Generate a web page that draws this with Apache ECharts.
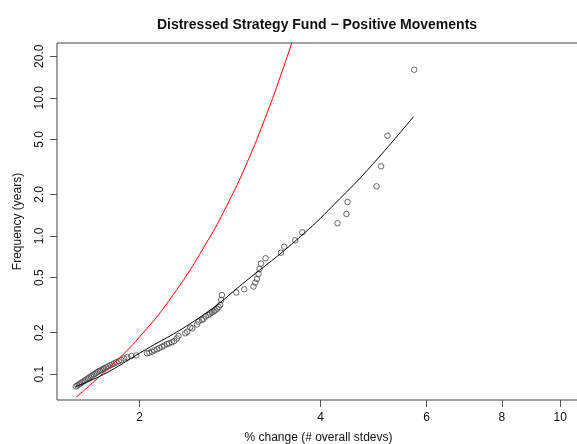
<!DOCTYPE html>
<html>
<head>
<meta charset="utf-8">
<script src="https://cdn.jsdelivr.net/npm/echarts@6/dist/echarts.min.js"></script>
<style>
  html, body { margin: 0; padding: 0; background: #fff; }
  #chart { width: 577px; height: 444px; }
</style>
</head>
<body>
<div id="chart"></div>
<script>
// observed moves (x = # overall stdevs, y = frequency in years)
var pointX = [1.567, 1.576, 1.585, 1.594, 1.603, 1.613, 1.622, 1.632, 1.641, 1.650, 1.660, 1.669, 1.679, 1.689, 1.698, 1.708,
  1.718, 1.728, 1.738, 1.748, 1.761, 1.775, 1.788, 1.802, 1.816, 1.830, 1.847, 1.865, 1.886, 1.908, 1.938, 1.975,
  2.057, 2.076, 2.097, 2.116, 2.138, 2.157, 2.179, 2.198, 2.221, 2.240, 2.264, 2.284, 2.307, 2.322, 2.382, 2.400,
  2.428, 2.447, 2.491, 2.506, 2.539, 2.555, 2.576, 2.604, 2.621, 2.638, 2.656, 2.672, 2.692, 2.706, 2.723, 2.734,
  2.741, 2.895, 2.985, 3.093, 3.114, 3.134, 3.153, 3.165, 3.182, 3.239, 3.435, 3.479, 3.628, 3.727, 4.266, 4.415,
  4.432, 4.953, 5.041, 5.164, 5.721];
var pointY = [0.0815, 0.0828, 0.0842, 0.0856, 0.0871, 0.0885, 0.0900, 0.0916, 0.0931, 0.0947, 0.0962, 0.0979, 0.0995, 0.1012, 0.1029, 0.1046,
  0.1058, 0.1073, 0.1091, 0.1103, 0.1122, 0.1141, 0.1160, 0.1179, 0.1199, 0.1219, 0.1242, 0.1267, 0.1299, 0.1325, 0.1354, 0.1366,
  0.1417, 0.1430, 0.1455, 0.1489, 0.1514, 0.1547, 0.1581, 0.1613, 0.1654, 0.1673, 0.1702, 0.1739, 0.1813, 0.1890, 0.1977, 0.2030,
  0.2177, 0.2148, 0.2289, 0.2398, 0.2467, 0.2516, 0.2615, 0.2681, 0.2749, 0.2795, 0.2842, 0.2900, 0.2978, 0.3064, 0.3168, 0.3444,
  0.3742, 0.3901, 0.4115, 0.4311, 0.4593, 0.4885, 0.5310, 0.5770, 0.6324, 0.6898, 0.7571, 0.8369, 0.9309, 1.0636, 1.2356, 1.4427,
  1.7622, 2.2885, 3.1940, 5.3183, 15.97];

// fitted curve (black)
var fitX = [1.564, 1.743, 2.005, 2.523, 3.016, 3.699, 4.311, 4.896, 5.704];
var fitY = [0.0812, 0.0998, 0.1429, 0.2594, 0.4788, 0.9884, 1.874, 3.357, 7.298];

// normal reference curve (red)
var normX = [1.568, 1.788, 2.005, 2.278, 2.588, 2.794, 3.016, 3.256, 3.426, 3.583, 3.70];
var normY = [0.0681, 0.1135, 0.1884, 0.3793, 0.9036, 1.667, 3.373, 7.709, 14.19, 25.12, 38.5];

var xTicks = [2, 4, 6, 8, 10];
var yTicks = [0.1, 0.2, 0.5, 1.0, 2.0, 5.0, 10.0, 20.0];

var lg = Math.log10;
function pairs(xs, ys) {
  return xs.map(function (x, i) { return [lg(x), lg(ys[i])]; });
}

var font = 'Liberation Sans, Arial, Helvetica, sans-serif';
var chart = echarts.init(document.getElementById('chart'));

chart.setOption({
  animation: false,
  backgroundColor: '#fff',
  title: {
    text: 'Distressed Strategy Fund \u2212 Positive Movements',
    left: 312,
    top: 13,
    textAlign: 'center',
    textStyle: { fontFamily: font, fontSize: 14, fontWeight: 'bold', color: '#111' }
  },
  grid: {
    left: 57, right: -3, top: 43, bottom: 44,
    containLabel: false,
    outerBoundsMode: 'none',
    show: true, borderColor: '#444', borderWidth: 1, backgroundColor: 'transparent'
  },
  xAxis: {
    type: 'value',
    min: 0.1638, max: 1.033,
    name: '% change (# overall stdevs)',
    nameLocation: 'middle', nameGap: 32,
    nameTextStyle: { fontFamily: font, fontSize: 12, color: '#111' },
    splitLine: { show: false },
    axisLine: { show: false, onZero: false },
    axisTick: { show: true, length: 7, lineStyle: { color: '#555' }, customValues: xTicks.map(lg) },
    axisLabel: {
      fontFamily: font, fontSize: 12, color: '#111', margin: 12,
      customValues: xTicks.map(lg),
      formatter: function (v) { return String(Math.round(Math.pow(10, v))); }
    }
  },
  yAxis: {
    type: 'value',
    min: -1.1867, max: 1.3966,
    name: 'Frequency (years)',
    nameLocation: 'middle', nameGap: 33, nameRotate: 90,
    nameTextStyle: { fontFamily: font, fontSize: 12, color: '#111' },
    splitLine: { show: false },
    axisLine: { show: false, onZero: false },
    axisTick: { show: true, length: 7, lineStyle: { color: '#555' }, customValues: yTicks.map(lg) },
    axisLabel: {
      fontFamily: font, fontSize: 12, color: '#111', margin: 11, rotate: 90,
      customValues: yTicks.map(lg),
      formatter: function (v) { return Math.pow(10, v).toFixed(1); }
    }
  },
  series: [
    {
      type: 'line',
      data: pairs(normX, normY),
      smooth: true,
      showSymbol: false,
      clip: true,
      lineStyle: { color: '#ff0000', width: 1 }
    },
    {
      type: 'line',
      data: pairs(fitX, fitY),
      smooth: true,
      showSymbol: false,
      lineStyle: { color: '#000', width: 1 }
    },
    {
      type: 'scatter',
      data: pairs(pointX, pointY),
      symbol: 'circle',
      symbolSize: 5.5,
      itemStyle: { color: 'transparent', borderColor: '#444', borderWidth: 1 }
    }
  ]
});
</script>
</body>
</html>
